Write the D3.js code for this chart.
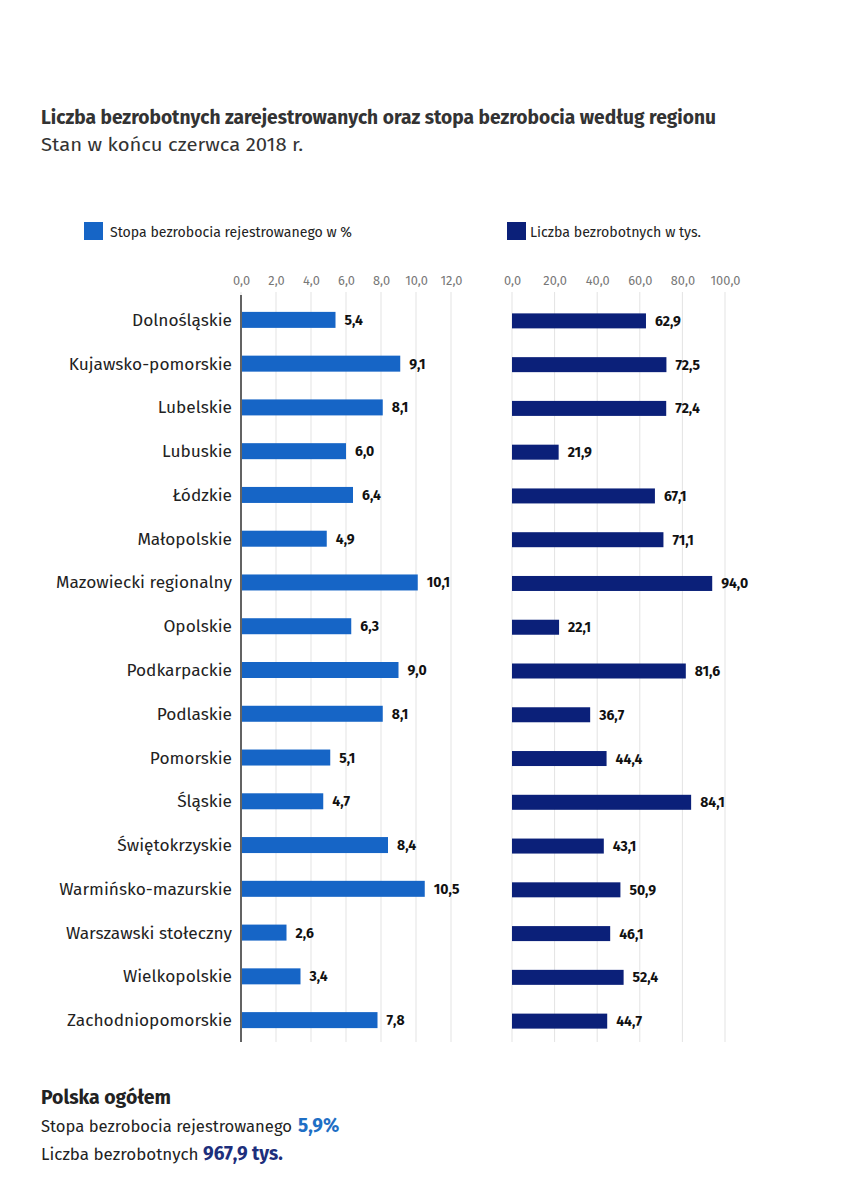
<!DOCTYPE html>
<html><head><meta charset="utf-8">
<script src="https://cdn.jsdelivr.net/npm/d3@7/dist/d3.min.js"></script>
<style>
body{margin:0;background:#fff;}
svg{display:block;}
</style></head><body>
<script>
const regions = ["Dolnośląskie","Kujawsko-pomorskie","Lubelskie","Lubuskie","Łódzkie","Małopolskie","Mazowiecki regionalny","Opolskie","Podkarpackie","Podlaskie","Pomorskie","Śląskie","Świętokrzyskie","Warmińsko-mazurskie","Warszawski stołeczny","Wielkopolskie","Zachodniopomorskie"];
const rate = [5.4,9.1,8.1,6.0,6.4,4.9,10.1,6.3,9.0,8.1,5.1,4.7,8.4,10.5,2.6,3.4,7.8];
const count = [62.9,72.5,72.4,21.9,67.1,71.1,94.0,22.1,81.6,36.7,44.4,84.1,43.1,50.9,46.1,52.4,44.7];
const rateTicks = [0,2,4,6,8,10,12];
const countTicks = [0,20,40,60,80,100];
const titleText = "Liczba bezrobotnych zarejestrowanych oraz stopa bezrobocia według regionu";
const subtitleText = "Stan w końcu czerwca 2018 r.";
const legendRate = "Stopa bezrobocia rejestrowanego w %";
const legendCount = "Liczba bezrobotnych w tys.";

const W = 852, H = 1201;
const font = "'Fira Sans','Open Sans','Noto Sans',sans-serif";
const fmt = v => v.toFixed(1).replace(".", ",");
const c1 = "#1665c6", c2 = "#0b2079";

const svg = d3.select("body").append("svg").attr("width", W).attr("height", H);

svg.append("text").attr("x", 41).attr("y", 124).attr("font-family", font).attr("font-weight", 700)
  .attr("font-size", 20).attr("fill", "#333").attr("textLength", 675).attr("lengthAdjust","spacingAndGlyphs").text(titleText);
svg.append("text").attr("x", 41).attr("y", 151).attr("font-family", font).attr("font-weight", 400)
  .attr("font-size", 19).attr("fill", "#333").attr("textLength", 262).attr("lengthAdjust","spacingAndGlyphs").text(subtitleText);

const y = d3.scaleBand().domain(regions).range([298, 1042]).paddingInner(0.62).paddingOuter(0.31);
const x1 = d3.scaleLinear().domain([0, 12]).range([241, 451]);
const x2 = d3.scaleLinear().domain([0, 100]).range([512, 725]);

// legends
svg.append("rect").attr("x", 84).attr("y", 222).attr("width", 19).attr("height", 18).attr("fill", c1);
svg.append("text").attr("x", 110).attr("y", 237).attr("font-family", font).attr("font-size", 15).attr("fill", "#222")
  .attr("textLength", 242).attr("lengthAdjust","spacingAndGlyphs").text(legendRate);
svg.append("rect").attr("x", 507).attr("y", 222).attr("width", 19).attr("height", 18).attr("fill", c2);
svg.append("text").attr("x", 530).attr("y", 237).attr("font-family", font).attr("font-size", 15).attr("fill", "#222")
  .attr("textLength", 171).attr("lengthAdjust","spacingAndGlyphs").text(legendCount);

function panel(x, ticks, vals, color, axisLine, barH, dy) {
  const g = svg.append("g");
  g.selectAll("line.grid").data(ticks).join("line")
    .attr("x1", d => x(d)).attr("x2", d => x(d)).attr("y1", 292).attr("y2", 1042)
    .attr("stroke", "#e3e3e3").attr("stroke-width", 1);
  const ax = d3.axisTop(x).tickValues(ticks).tickFormat(fmt).tickSize(0).tickPadding(0);
  const ag = g.append("g").attr("transform", "translate(0,285)").call(ax);
  ag.select(".domain").remove();
  ag.selectAll("text").attr("font-family", font).attr("font-size", 12.8).attr("fill", "#777");
  if (axisLine) g.append("line").attr("x1", x(0)).attr("x2", x(0)).attr("y1", 295).attr("y2", 1042).attr("stroke", "#333").attr("stroke-width", 1.5);
  g.selectAll("rect.bar").data(vals).join("rect")
    .attr("x", x(0) + (axisLine ? 1 : 0)).attr("y", (d, i) => y(regions[i]) + y.bandwidth()/2 - barH/2 + dy)
    .attr("width", d => x(d) - x(0) - (axisLine ? 1 : 0)).attr("height", barH).attr("fill", color);
  g.selectAll("text.val").data(vals).join("text")
    .attr("x", d => x(d) + 9).attr("y", (d, i) => y(regions[i]) + y.bandwidth()/2 + dy + 5)
    .attr("font-family", font).attr("font-weight", 700).attr("font-size", 14).attr("fill", "#111").text(fmt);
}
panel(x1, rateTicks, rate, c1, true, 16, 0);
panel(x2, countTicks, count, c2, false, 15, 1);

svg.selectAll("text.cat").data(regions).join("text")
  .attr("x", 232).attr("y", d => y(d) + y.bandwidth()/2 + 6).attr("text-anchor", "end")
  .attr("font-family", font).attr("font-size", 17.3).attr("fill", "#222").text(d => d);

// footer
svg.append("text").attr("x", 41).attr("y", 1104).attr("font-family", font).attr("font-weight", 700)
  .attr("font-size", 20).attr("fill", "#222").attr("textLength", 130).attr("lengthAdjust","spacingAndGlyphs").text("Polska ogółem");
const f1 = svg.append("text").attr("x", 41).attr("y", 1132).attr("font-family", font).attr("font-size", 17).attr("fill", "#222");
f1.append("tspan").attr("textLength", 251).attr("lengthAdjust","spacingAndGlyphs").text("Stopa bezrobocia rejestrowanego");
f1.append("tspan").attr("x", 298).attr("font-weight", 700).attr("fill", "#1f6fc5").attr("font-size", 19).text("5,9%");
const f2 = svg.append("text").attr("x", 41).attr("y", 1160).attr("font-family", font).attr("font-size", 17).attr("fill", "#222");
f2.append("tspan").text("Liczba bezrobotnych ");
f2.append("tspan").attr("font-weight", 700).attr("fill", "#1d2f7c").attr("font-size", 19).text("967,9 tys.");
</script>
</body></html>
